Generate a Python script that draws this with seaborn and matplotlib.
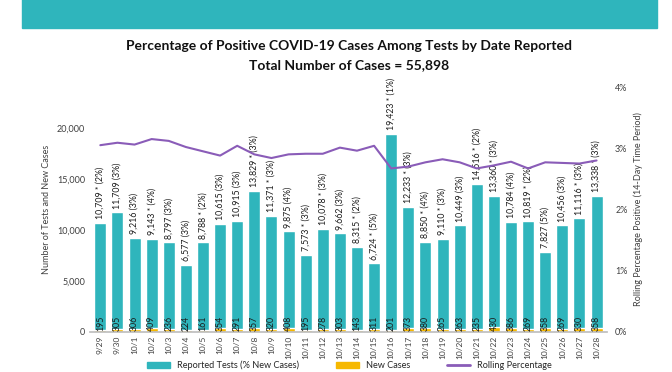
import matplotlib
matplotlib.use("Agg")
import matplotlib.pyplot as plt
import matplotlib.patches as mpatches
from matplotlib.lines import Line2D
from matplotlib.ticker import FuncFormatter
import numpy as np
import pandas as pd
import seaborn as sns

sns.set_theme(style="white")
plt.rcParams["font.family"] = ["Lato", "DejaVu Sans"]

TEAL = "#2fb5bc"
GOLD = "#f6b800"
PURPLE = "#8a5cb8"

dates = ["9/29", "9/30", "10/1", "10/2", "10/3", "10/4", "10/5", "10/6", "10/7", "10/8",
         "10/9", "10/10", "10/11", "10/12", "10/13", "10/14", "10/15", "10/16", "10/17", "10/18",
         "10/19", "10/20", "10/21", "10/22", "10/23", "10/24", "10/25", "10/26", "10/27", "10/28"]
tests = [10709, 11709, 9216, 9143, 8797, 6577, 8788, 10615, 10915, 13829,
         11371, 9875, 7573, 10078, 9662, 8315, 6724, 19423, 12233, 8850,
         9110, 10449, 14516, 13360, 10784, 10819, 7827, 10456, 11116, 13338]
test_flags = ["*", "", "", "*", "", "", "*", "", "", "*",
              "*", "", "*", "*", "", "*", "*", "*", "*", "*",
              "*", "", "*", "*", "", "*", "", "", "*", "*"]
test_pct = [2, 3, 3, 4, 3, 3, 2, 3, 3, 3,
            3, 4, 3, 3, 3, 2, 5, 1, 3, 4,
            3, 3, 2, 3, 4, 2, 5, 3, 3, 3]
new_cases = [195, 305, 306, 409, 236, 224, 161, 354, 291, 357,
             320, 408, 195, 278, 303, 143, 311, 201, 373, 380,
             265, 263, 235, 430, 386, 269, 358, 269, 330, 358]
rolling = [3.05, 3.09, 3.06, 3.15, 3.12, 3.02, 2.95, 2.88, 3.04, 2.90,
           2.84, 2.90, 2.91, 2.91, 3.01, 2.96, 3.04, 2.67, 2.70, 2.77,
           2.82, 2.77, 2.67, 2.72, 2.78, 2.67, 2.77, 2.76, 2.75, 2.80]

df = pd.DataFrame({"date": dates, "tests": tests, "new": new_cases, "rolling": rolling})
df["pos"] = np.arange(len(df))

fig = plt.figure(figsize=(6.72, 3.72), dpi=100)
ax = fig.add_axes([0.134, 0.108, 0.769, 0.658])

# top banner
fig.patches.append(mpatches.Rectangle((0.033, 0.925), 0.945, 0.08, transform=fig.transFigure,
                                      color=TEAL, zorder=0))

sns.barplot(data=df, x="date", y="tests", color=TEAL, width=0.7, saturation=1, ax=ax)
sns.barplot(data=df, x="date", y="new", color=GOLD, width=0.7, saturation=1, ax=ax)

for i, row in df.iterrows():
    star = " *" if test_flags[i] else ""
    label = f"{row.tests:,}{star} ({test_pct[i]}%)"
    ax.text(i, row.tests + 350, label, rotation=90, ha="center", va="bottom",
            fontsize=6.3, color="#1a1a1a", clip_on=False)
    ax.text(i, 60, f"{row.new}", rotation=90, ha="center", va="bottom",
            fontsize=6.3, color="#1a1a1a")

ax.set_ylim(0, 24000)
ax.set_xlim(-0.6, len(df) - 0.4)
ax.set_yticks([0, 5000, 10000, 15000, 20000])
ax.yaxis.set_major_formatter(FuncFormatter(lambda v, p: f"{int(v):,}"))
ax.set_xlabel("")
ax.set_ylabel("Number of Tests and New Cases", fontsize=6.5, color="#404040")
ax.tick_params(axis="x", rotation=90, labelsize=6, colors="#404040", length=0, pad=3)
ax.tick_params(axis="y", labelsize=6.5, colors="#404040", length=0)
for s in ["top", "right", "left"]:
    ax.spines[s].set_visible(False)
ax.spines["bottom"].set_color("#bfbfbf")

ax2 = ax.twinx()
sns.lineplot(data=df, x="pos", y="rolling", color=PURPLE, linewidth=1.5, ax=ax2)
ax2.set_ylim(0, 4)
ax2.set_yticks([0, 1, 2, 3, 4])
ax2.yaxis.set_major_formatter(FuncFormatter(lambda v, p: f"{int(v)}%"))
ax2.set_xlabel("")
ax2.set_ylabel("Rolling Percentage Positive (14-Day Time Period)", fontsize=6.5, color="#404040")
ax2.tick_params(axis="y", labelsize=6.5, colors="#404040", length=0, pad=6)
for s in ["top", "right", "left", "bottom"]:
    ax2.spines[s].set_visible(False)

fig.text(0.52, 0.876, "Percentage of Positive COVID-19 Cases Among Tests by Date Reported",
         ha="center", va="center", fontsize=10, fontweight="bold", color="#111111")
fig.text(0.52, 0.826, "Total Number of Cases = 55,898",
         ha="center", va="center", fontsize=10, fontweight="bold", color="#111111")

handles = [mpatches.Patch(color=TEAL, label="Reported Tests (% New Cases)"),
           mpatches.Patch(color=GOLD, label="New Cases"),
           Line2D([0], [0], color=PURPLE, lw=2, label="Rolling Percentage")]
fig.legend(handles=handles, loc="lower center", bbox_to_anchor=(0.52, -0.018), ncol=3,
           frameon=False, fontsize=6.6, handlelength=2.5, columnspacing=4)

fig.savefig("out.png", dpi=100)
